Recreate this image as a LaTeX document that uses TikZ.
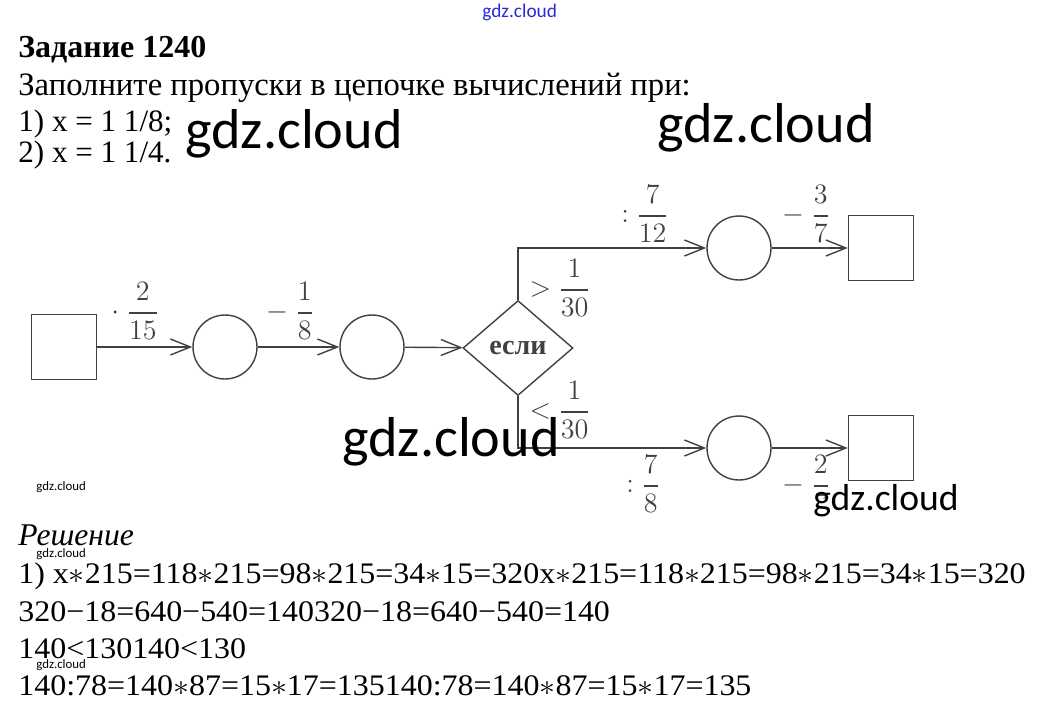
\documentclass[tikz,border=0pt]{standalone}
\usepackage{fix-cm}
\usepackage{amsmath}
\usepackage{fontspec}
\setmainfont{Liberation Serif}
\newfontfamily\wmfont{Carlito}
\usetikzlibrary{shapes.geometric,arrows.meta}
\definecolor{lineGray}{RGB}{65,65,65}
\definecolor{wmBlue}{RGB}{40,40,220}

\begin{document}
\begin{tikzpicture}[x=0.02cm, y=-0.02cm,
    sq/.style={rectangle, draw=lineGray, line width=0.8pt, minimum size=1.3cm, inner sep=0},
    circ/.style={circle, draw=lineGray, line width=0.8pt, minimum size=1.28cm, inner sep=0},
    cond/.style={diamond, draw=lineGray, line width=0.8pt, minimum width=2.2cm, minimum height=1.9cm, inner sep=0, font=\fontsize{16}{18}\selectfont\bfseries, text=lineGray},
    arrow/.style={-{Straight Barb[length=0.4cm,width=0.32cm]}, line width=0.8pt, lineGray},
    op/.style={font=\fontsize{16}{18}\selectfont, text=lineGray, inner sep=0},
    txt/.style={anchor=base west, inner sep=0, font=\fontsize{17.7}{20}\selectfont},
    sol/.style={anchor=base west, inner sep=0, font=\fontsize{17}{20}\selectfont},
    wm/.style={anchor=base west, inner sep=0, font=\wmfont\fontsize{32}{34}\selectfont}
]
\useasboundingbox (0,0) rectangle (1038,711);

% task text
\node[txt, font=\fontsize{18.2}{20}\selectfont\bfseries] (title) at (18,57) {Задание 1240};
\node[txt, font=\fontsize{18.6}{20}\selectfont] (task) at (18,95) {Заполните пропуски в цепочке вычислений при:};
\node[txt] (case1) at (18,131) {1) x = 1 1/8;};
\node[txt] (case2) at (18,162) {2) x = 1 1/4.};

% chain
\node[sq] (start) at (64,347) {};
\node[circ] (c1) at (225,347) {};
\node[circ] (c2) at (372,347) {};
\node[cond] (if) at (518,348) {если};
\node[circ] (up1) at (739,248) {};
\node[sq] (up2) at (881,248) {};
\node[circ] (dn1) at (739,448) {};
\node[sq] (dn2) at (881,448) {};

\draw[arrow] (start) -- (c1);
\draw[arrow] (c1) -- (c2);
\draw[arrow] (c2) -- (if);
\draw[arrow] (if.north) |- (up1);
\draw[arrow] (up1) -- (up2);
\draw[arrow] (if.south) |- (dn1);
\draw[arrow] (dn1) -- (dn2);

\node[op] (mul) at (135,311) {$\cdot\;\dfrac{2}{15}$};
\node[op] (sub1) at (290,311) {$-\;\dfrac{1}{8}$};
\node[op] (gt) at (560,288) {$>\dfrac{1}{30}$};
\node[op] (lt) at (560,410) {$<\dfrac{1}{30}$};
\node[op] (div1) at (645,214) {${:}\;\dfrac{7}{12}$};
\node[op] (sub2) at (806,214) {$-\;\dfrac{3}{7}$};
\node[op] (div2) at (643,484) {${:}\;\dfrac{7}{8}$};
\node[op] (sub3) at (806,484) {$-\;\dfrac{2}{7}$};

% solution
\node[txt, font=\fontsize{18}{20}\selectfont\itshape] (sol) at (18,545) {Решение};
\node[sol] (s1) at (18,583) {\scalebox{1.07}[1]{1) x$\ast$215=118$\ast$215=98$\ast$215=34$\ast$15=320x$\ast$215=118$\ast$215=98$\ast$215=34$\ast$15=320}};
\node[sol] (s2) at (18,621) {\scalebox{1.07}[1]{320−18=640−540=140320−18=640−540=140}};
\node[sol] (s3) at (18,658) {\scalebox{1.07}[1]{140<130140<130}};
\node[sol] (s4) at (18,695) {\scalebox{1.07}[1]{140:78=140$\ast$87=15$\ast$17=135140:78=140$\ast$87=15$\ast$17=135}};

% watermarks
\node[wm, font=\wmfont\fontsize{11}{12}\selectfont, text=wmBlue] (wm0) at (482,17) {gdz.cloud};
\node[wm] (wm1) at (185,148) {gdz.cloud};
\node[wm] (wm2) at (657,142) {gdz.cloud};
\node[wm] (wm3) at (342,456) {gdz.cloud};
\node[wm, font=\wmfont\fontsize{21.4}{23}\selectfont, fill=white, text height=0.6em] (wm4) at (813,510) {gdz.cloud};
\node[wm, font=\wmfont\fontsize{7.3}{8}\selectfont] (wm5) at (36,490) {gdz.cloud};
\node[wm, font=\wmfont\fontsize{7.3}{8}\selectfont] (wm6) at (36,557) {gdz.cloud};
\node[wm, font=\wmfont\fontsize{7.3}{8}\selectfont] (wm7) at (36,668) {gdz.cloud};
\end{tikzpicture}
\end{document}
